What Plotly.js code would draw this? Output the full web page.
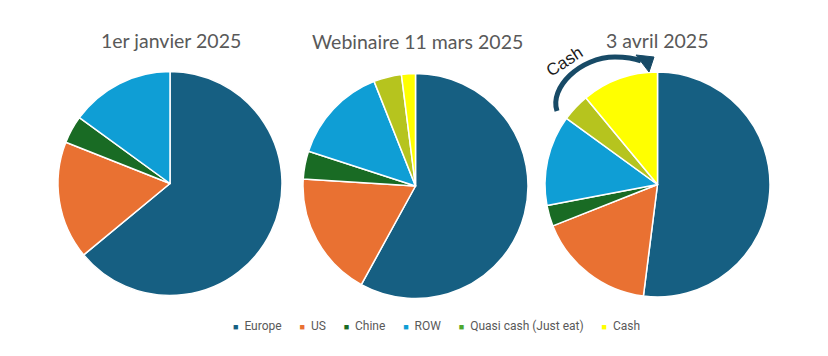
<!DOCTYPE html>
<html>
<head>
<meta charset="utf-8">
<script src="https://cdn.plot.ly/plotly-3.0.1.min.js"></script>
<style>html,body{margin:0;padding:0;background:#fff;}#chart{width:828px;height:356px;}</style>
</head>
<body>
<div id="chart"></div>
<script>
// Data
const categories = ["Europe", "US", "Chine", "ROW", "Quasi cash (Just eat)", "Cash"];
const titles = ["1er janvier 2025", "Webinaire 11 mars 2025", "3 avril 2025"];
const valuesJan = [64, 17, 4, 15];
const valuesMar = [58, 18, 4, 14, 4, 2];
const valuesApr = [52, 17, 3, 13, 4, 11];
const arrowLabel = "Cash";

// Styles
const sliceColors = ["#165f82", "#e97132", "#196b24", "#0f9ed5", "#b6c41e", "#ffff00"];
const legendColors = ["#156082", "#e97132", "#196b24", "#0f9ed5", "#4ea72e", "#ffff00"];
const W = 828, H = 356;
const px = x => x / W;
const py = y => 1 - y / H;

function pieTrace(vals, x0, x1, y0, y1) {
  return {
    type: "pie",
    labels: categories.slice(0, vals.length),
    values: vals,
    sort: false,
    direction: "clockwise",
    rotation: 0,
    textinfo: "none",
    hoverinfo: "label+value",
    showlegend: false,
    marker: { colors: sliceColors.slice(0, vals.length), line: { color: "#ffffff", width: 1.5 } },
    domain: { x: [px(x0), px(x1)], y: [py(y1), py(y0)] }
  };
}

const traces = [
  pieTrace(valuesJan, 58, 282, 71, 296),
  pieTrace(valuesMar, 303, 528, 73.5, 298.5),
  pieTrace(valuesApr, 545, 770, 72, 297)
];

const titleFont = { family: "Lato, 'Open Sans', sans-serif", size: 19.5, color: "#595959" };
const annotations = [
  { text: titles[0], x: px(171), y: py(40) },
  { text: titles[1], x: px(417), y: py(41) },
  { text: titles[2], x: px(657), y: py(40) }
].map(a => Object.assign({ xref: "paper", yref: "paper", showarrow: false, xanchor: "center", yanchor: "middle", font: titleFont }, a));

annotations.push({
  text: arrowLabel, xref: "paper", yref: "paper", x: px(565), y: py(62),
  showarrow: false, textangle: -33, xanchor: "center", yanchor: "middle",
  font: { family: "'Liberation Sans', Arial, sans-serif", size: 17, color: "#1a1a1a" }
});

// Legend built from categories and colours
const NB = "\u00A0";
const legendText = categories.map((c, i) =>
  '<span style="color:' + legendColors[i] + ';font-size:9px">■</span>' + NB + NB + c
).join(NB.repeat(6));
annotations.push({
  text: legendText, xref: "paper", yref: "paper", x: px(436), y: py(326),
  showarrow: false, xanchor: "center", yanchor: "middle",
  font: { family: "Roboto, 'Open Sans', sans-serif", size: 12, color: "#595959" }
});

const arrowColor = "#174a66";
const shapes = [
  {
    type: "path", xref: "paper", yref: "paper",
    path: "M " + px(557) + "," + py(111) +
          " C " + px(549) + "," + py(88) + " " + px(580) + "," + py(57) + " " + px(615) + "," + py(57) +
          " C " + px(628) + "," + py(57) + " " + px(636) + "," + py(59) + " " + px(641) + "," + py(61),
    line: { color: arrowColor, width: 5 }, fillcolor: "rgba(0,0,0,0)"
  },
  {
    type: "path", xref: "paper", yref: "paper",
    path: "M " + px(636) + "," + py(55) + " L " + px(649) + "," + py(72) + " L " + px(654) + "," + py(57) + " Z",
    line: { color: arrowColor, width: 1 }, fillcolor: arrowColor
  }
];

const layout = {
  width: W, height: H,
  margin: { l: 0, r: 0, t: 0, b: 0 },
  paper_bgcolor: "#ffffff", plot_bgcolor: "#ffffff",
  showlegend: false,
  annotations: annotations,
  shapes: shapes
};

Plotly.newPlot("chart", traces, layout, { displayModeBar: false, staticPlot: true });
</script>
</body>
</html>
